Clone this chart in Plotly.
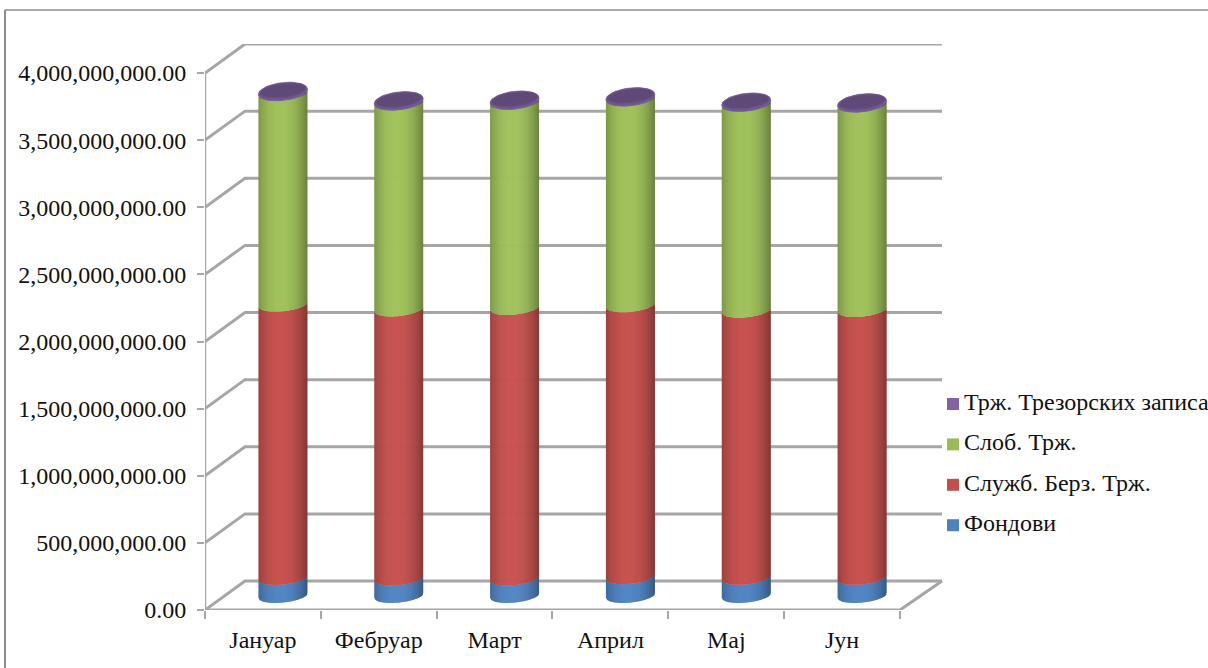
import numpy as np
import plotly.graph_objects as go

months = ["Јануар", "Фебруар", "Март", "Април", "Мај", "Јун"]
fondovi = [0.134e9, 0.130e9, 0.130e9, 0.140e9, 0.135e9, 0.135e9]
sluzbeno = [2.036e9, 2.004e9, 2.015e9, 2.025e9, 1.990e9, 1.995e9]
slobodno = [1.570e9, 1.536e9, 1.530e9, 1.535e9, 1.535e9, 1.525e9]
trezorski = [0.014e9, 0.014e9, 0.014e9, 0.014e9, 0.014e9, 0.014e9]
series_names = ["Фондови", "Служб. Берз. Трж.", "Слоб. Трж.", "Трж. Трезорских записа"]
series_colors = ["#4F81BD", "#C0504D", "#9BBB59", "#8064A2"]
y_ticks = [0, 0.5e9, 1e9, 1.5e9, 2e9, 2.5e9, 3e9, 3.5e9, 4e9]

# pixel layout of the pseudo-3D chart
L, R, T, B = 205, 1208, 44, 610
WALL_R = 942
PX_X = 115.83                # pixels per category
PX_Y = 537 / 4e9             # pixels per value unit
XMAX = (R - L) / PX_X - 0.5
XWALL = (WALL_R - L) / PX_X - 0.5
YMAX = (B - T) / PX_Y
DX = 40 / PX_X               # depth of the floor, in axis units
DY = 29 / PX_Y
RAD = 24.5 / PX_X            # cylinder radius
MINOR = 7 / PX_Y             # ellipse half height of the side arcs
CAP_MINOR = 9 / PX_Y         # ellipse half height of the top cap
TILT = 2.5 / PX_Y            # ellipse slant
N = 49
GRID = "#A6A6A6"
FONT = "Liberation Serif"
INK = "#111111"


def shade(color, f):
    c = [int(color[i:i + 2], 16) for i in (1, 3, 5)]
    return "rgb(%d,%d,%d)" % tuple(min(255, round(v * f)) for v in c)


fig = go.Figure()

# back wall grid lines with the slanted side wall part
for v in y_ticks:
    fig.add_trace(go.Scatter(
        x=[-0.5, -0.5 + DX, XWALL], y=[v, v + DY, v + DY], mode="lines",
        line=dict(color=GRID, width=3), hoverinfo="skip", showlegend=False))
# floor front edge and vertical axis
fig.add_trace(go.Scatter(
    x=[-0.5, 5.5, XWALL], y=[0, 0, DY], mode="lines",
    line=dict(color=GRID, width=3), hoverinfo="skip", showlegend=False))
fig.add_trace(go.Scatter(
    x=[-0.5, -0.5], y=[0, 4e9], mode="lines",
    line=dict(color=GRID, width=2.5), hoverinfo="skip", showlegend=False))

centers = np.arange(len(months)) + DX / 2
floor = DY / 2
series = [np.array(fondovi), np.array(sluzbeno), np.array(slobodno), np.array(trezorski)]
us = np.linspace(-1, 1, N + 1)
overlap = 0.7 / PX_X

bottom = np.full(len(months), floor)
for values, color in zip(series, series_colors):
    top = bottom + values
    for k in range(N):
        u1, u2 = us[k], us[k + 1]
        u = (u1 + u2) / 2
        f = 0.68 + 0.36 * (1 - min(1, abs(u + 0.1) / 1.1) ** 2.2)
        d1 = -MINOR * np.sqrt(max(0, 1 - u1 ** 2)) + TILT * u1
        d2 = -MINOR * np.sqrt(max(0, 1 - u2 ** 2)) + TILT * u2
        ext = overlap if k < N - 1 else 0
        xs, ys = [], []
        for c, a, b in zip(centers, bottom, top):
            x1, x2 = c + RAD * u1, c + RAD * u2 + ext
            xs += [x1, x2, x2, x1, x1, None]
            ys += [a + d1, a + d2, b + d2, b + d1, a + d1, None]
        col = shade(color, f)
        fig.add_trace(go.Scatter(
            x=xs, y=ys, mode="lines", fill="toself", fillcolor=col,
            line=dict(width=0, color=col), hoverinfo="skip", showlegend=False))
    bottom = top

# top caps
cap_steps = 14
for j in range(cap_steps):
    g = 1 - j / cap_steps
    f = 0.95 - 0.21 * min(1, j / 5)
    th = np.linspace(0, 2 * np.pi, 49)
    xs, ys = [], []
    for c, b in zip(centers, bottom):
        xs += list(c + RAD * g ** 0.25 * np.cos(th)) + [None]
        ys += list(b + (CAP_MINOR * g) * np.sin(th) + TILT * np.cos(th) + CAP_MINOR * (1 - g) * 0.35) + [None]
    col = shade(series_colors[3], f)
    fig.add_trace(go.Scatter(
        x=xs, y=ys, mode="lines", fill="toself", fillcolor=col,
        line=dict(color=col, width=0.6), hoverinfo="skip", showlegend=False))

# legend entries placed beside the plot, top entry = last series
for row, (name, color) in enumerate(zip(series_names[::-1], series_colors[::-1])):
    ly = (B - (404 + 40.4 * row)) / PX_Y
    fig.add_trace(go.Scatter(
        x=[(953 - L) / PX_X - 0.5], y=[ly], mode="markers", name=name,
        cliponaxis=False, marker=dict(symbol="square", size=12, color=color),
        hoverinfo="skip", showlegend=False))
    fig.add_trace(go.Scatter(
        x=[(964 - L) / PX_X - 0.5], y=[ly], mode="text", name=name, text=[name],
        textposition="middle right", cliponaxis=False,
        textfont=dict(family=FONT, size=24, color=INK),
        hoverinfo="skip", showlegend=False))

fig.update_layout(
    width=1208, height=668, autosize=False,
    margin=dict(l=L, r=1208 - R, t=T, b=668 - B, pad=0),
    paper_bgcolor="white", plot_bgcolor="white",
    font=dict(family=FONT, color=INK, size=24),
    showlegend=False,
    xaxis=dict(
        range=[-0.5, XMAX], tickmode="array", tickvals=list(range(len(months))),
        ticktext=months, showgrid=False, zeroline=False, showline=False,
        ticks="", tickfont=dict(size=24), ticklabelstandoff=13,
        minor=dict(tickmode="array", tickvals=[i - 0.5 for i in range(7)],
                   ticks="outside", ticklen=8, tickcolor=GRID, tickwidth=2, showgrid=False)),
    yaxis=dict(
        range=[0, YMAX], tickmode="array", tickvals=y_ticks, tickformat=",.2f",
        showgrid=False, zeroline=False, showline=False, ticks="outside", ticklen=7,
        tickcolor=GRID, tickwidth=2, tickfont=dict(size=24), ticklabelstandoff=6),
    shapes=[
        dict(type="line", xref="paper", yref="paper",
             x0=(5 - L) / (R - L), x1=1,
             y0=(B - 10) / (B - T), y1=(B - 10) / (B - T),
             line=dict(color="#8C8C8C", width=1.5)),
        dict(type="line", xref="paper", yref="paper",
             x0=(5 - L) / (R - L), x1=(5 - L) / (R - L),
             y0=(B - 10) / (B - T), y1=(B - 668) / (B - T),
             line=dict(color="#8C8C8C", width=2)),
    ],
)

fig.write_html("out.html", config={"displayModeBar": False},
               post_script="document.body.style.margin='0';document.body.style.overflow='hidden';")
